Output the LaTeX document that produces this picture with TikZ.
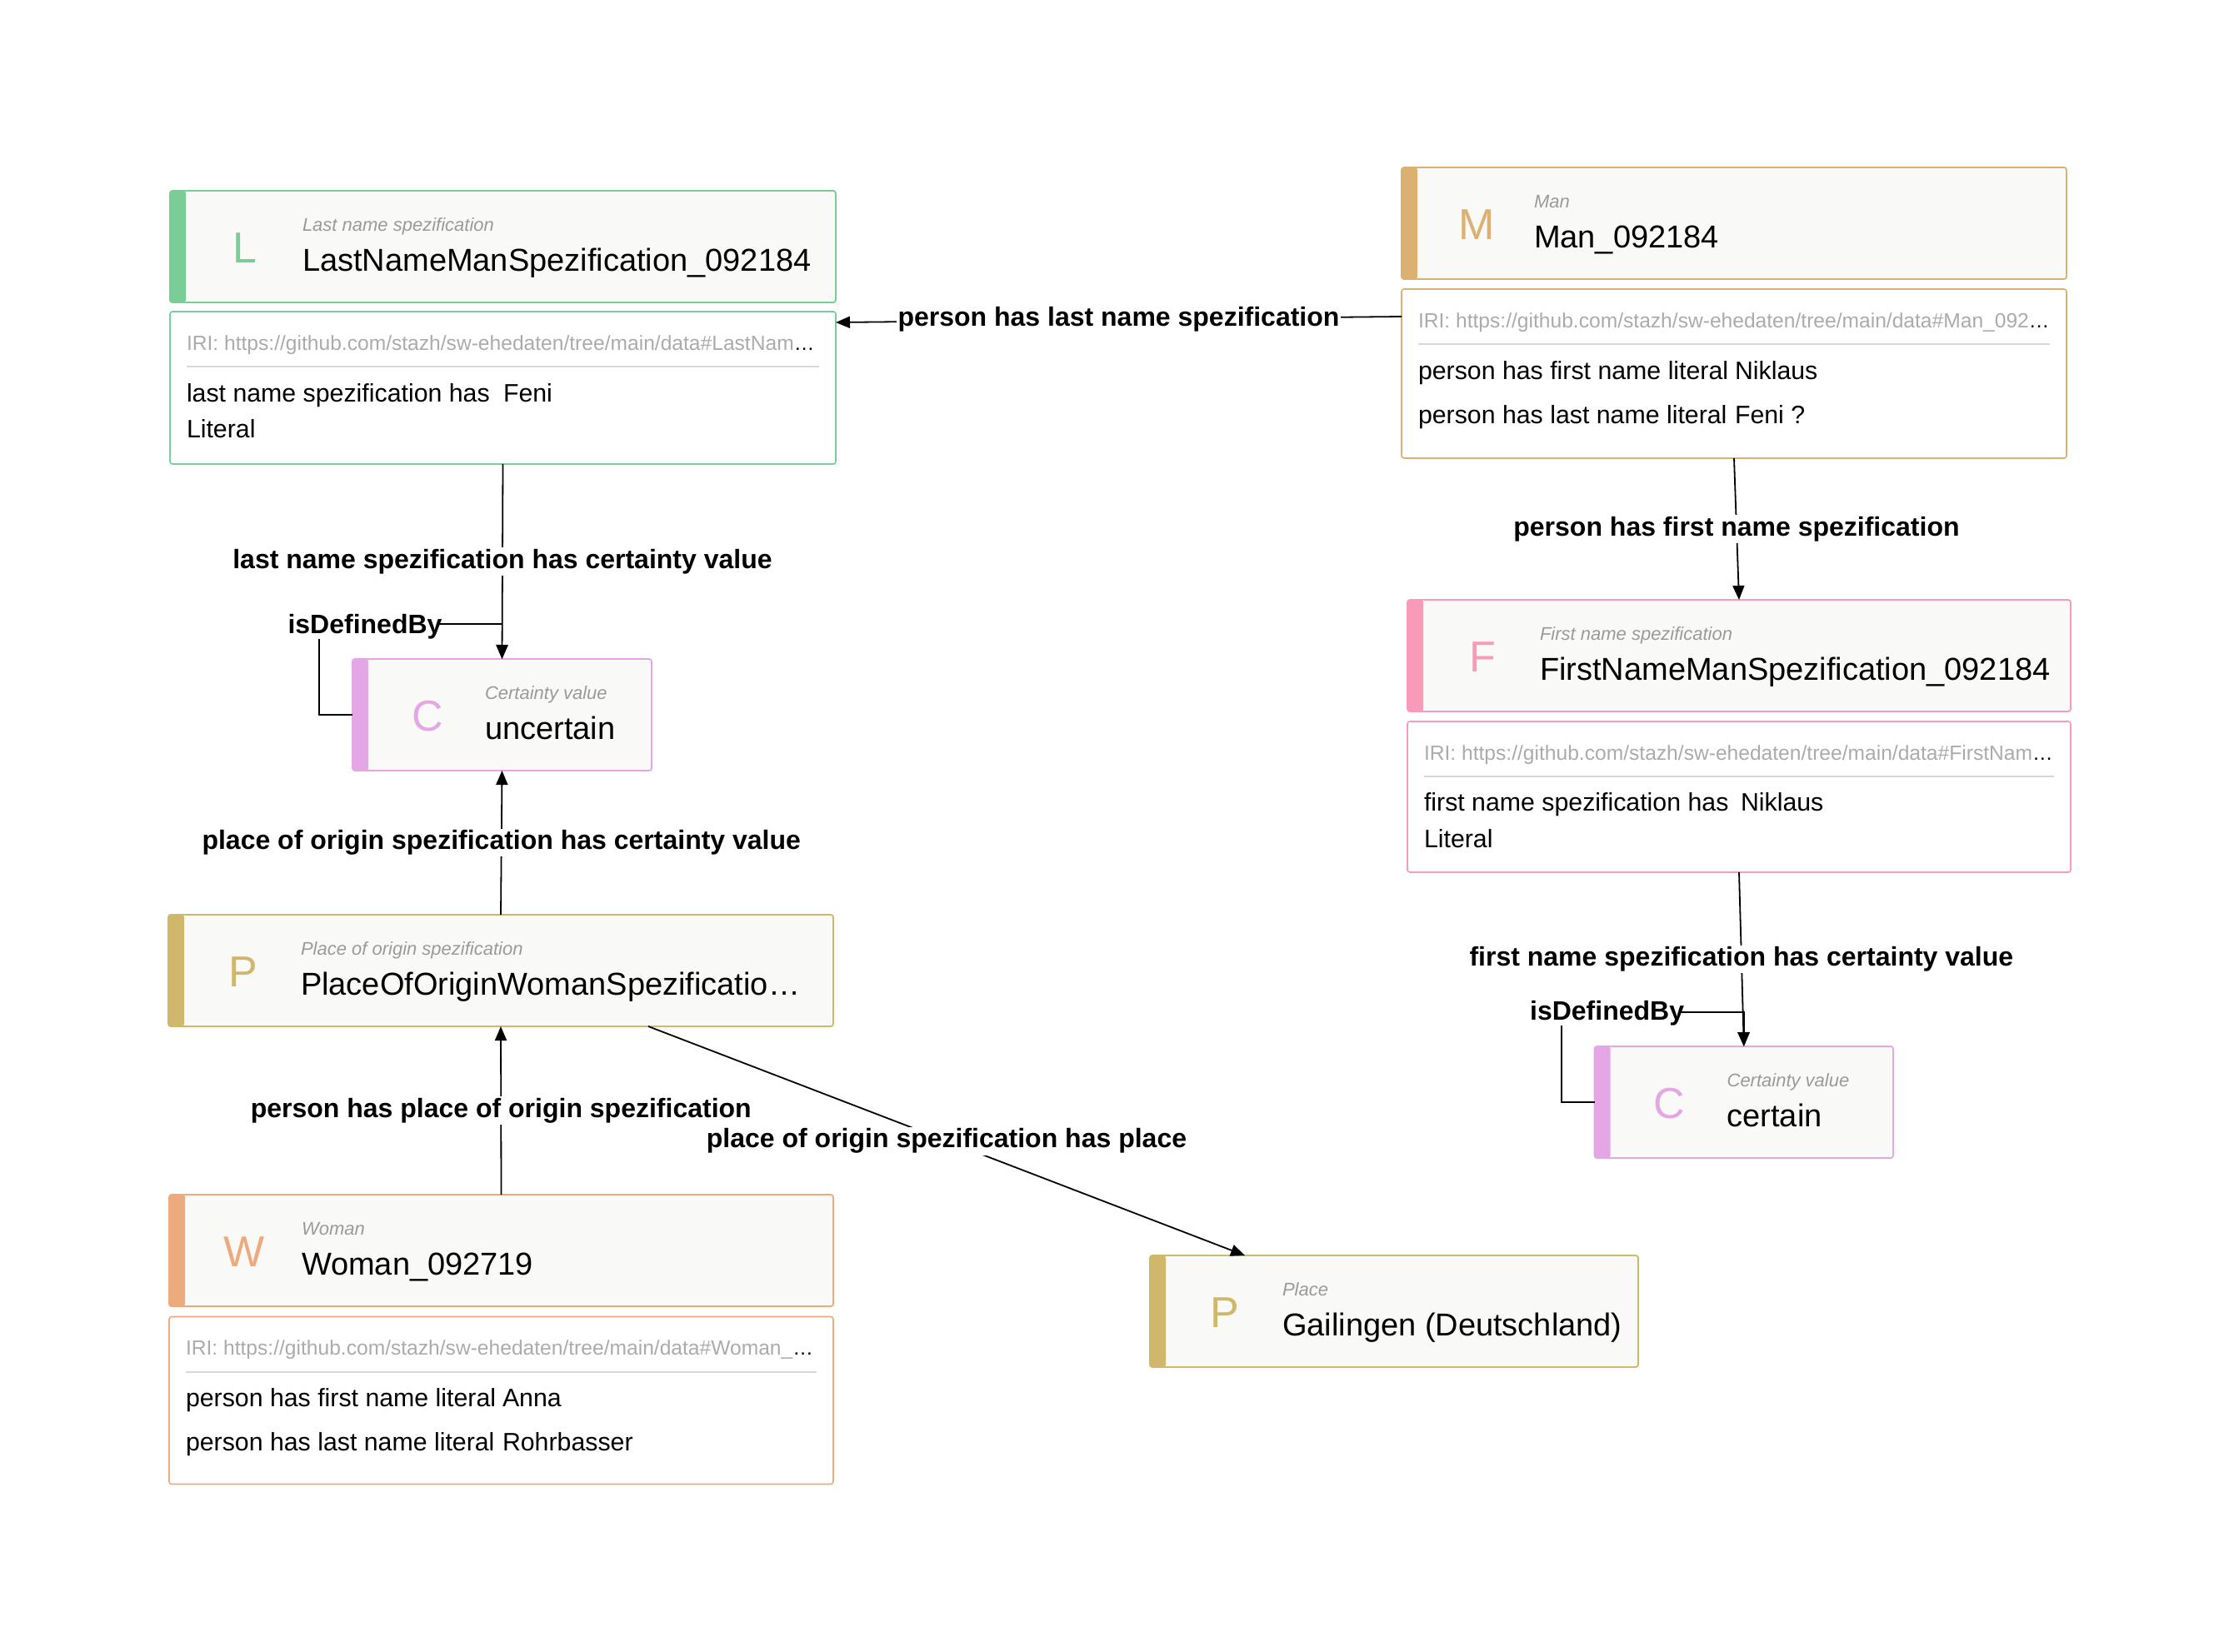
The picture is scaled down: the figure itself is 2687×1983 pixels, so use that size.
\documentclass[tikz,border=0pt]{standalone}
\usepackage{fontspec}
\setmainfont{Liberation Sans}
\usetikzlibrary{arrows.meta,calc}

\definecolor{cGreen}{HTML}{7ACD96}
\definecolor{cTan}{HTML}{DCB070}
\definecolor{cPink}{HTML}{F99AB8}
\definecolor{cOrchid}{HTML}{E4A6E4}
\definecolor{cKhaki}{HTML}{CFB76C}
\definecolor{cSalmon}{HTML}{EDAA7D}
\definecolor{hdrFill}{HTML}{F9F9F7}
\definecolor{typeGray}{HTML}{9A9A9A}
\definecolor{iriGray}{HTML}{ABABAB}
\definecolor{sepGray}{HTML}{D8D8D8}

\newcommand{\fs}[1]{\fontsize{#1}{#1}\selectfont}

\tikzset{
  hdr/.style={draw=#1, fill=hdrFill, line width=1.8pt, rounded corners=3pt,
    minimum height=134pt, inner sep=0pt, outer sep=0pt, anchor=north west,
    path picture={\fill[#1] (path picture bounding box.north west)
      rectangle ([xshift=19pt]path picture bounding box.south west);}},
  det/.style={draw=#1, fill=white, line width=1.6pt, rounded corners=3pt,
    inner sep=0pt, outer sep=0pt, anchor=north west},
  txt/.style={inner sep=0pt, outer sep=0pt, anchor=base west},
  lab/.style={font=\fs{32}\bfseries, fill=white, inner sep=2pt, text=black},
  deflab/.style={font=\fs{32}\bfseries, fill=white, inner xsep=-5pt, inner ysep=0pt, anchor=base},
  arr/.style={line width=1.8pt, draw=black, -{Triangle[length=17pt,width=14pt]}},
}

% header card: name, colour, x, y, width, letter, type, title
\newcommand{\entity}[8]{%
  \node[hdr=#2, minimum width=#5pt] (#1) at (#3,#4) {};
  \node[txt, anchor=base, text=#2, font=\fs{52}] (#1-l) at ($(#1.north west)+(90,86)$) {#6};
  \node[txt, text=typeGray, font=\fs{22}\itshape] (#1-t) at ($(#1.north west)+(159,48)$) {#7};
  \node[txt, font=\fs{38}] (#1-n) at ($(#1.north west)+(159,96)$) {#8};
}
% detail card: name, colour, x, y, width, height, IRI tail
\newcommand{\details}[7]{%
  \node[det=#2, minimum width=#5pt, minimum height=#6pt] (#1) at (#3,#4) {};
  \node[txt, text=iriGray, font=\fs{24.6}] (#1-iri) at ($(#1.north west)+(20,46)$)
    {IRI: https://github.com/stazh/sw-ehedaten/tree/main/data\##7\textcolor{black}{…}};
  \draw[sepGray, line width=2pt] ($(#1.north west)+(20,66)$) -- ($(#1.north east)+(-20,66)$);
}
% property row: card, id, y offset, key, value
\newcommand{\prop}[5]{%
  \node[txt, font=\fs{30.3}] (#1-#2k) at ($(#1.north west)+(20,#3)$) {#4};
  \node[txt, font=\fs{30.3}] (#1-#2v) at ($(#1.north west)+(400,#3)$) {#5};
}

\begin{document}
\begin{tikzpicture}[x=1pt, y=-1pt]
\fill[white] (0,0) rectangle (2687,1983);
\useasboundingbox (0,0) rectangle (2687,1983);

% cards
\entity{L}{cGreen}{204}{229}{799}{L}{Last name spezification}{LastNameManSpezification\_092184}
\details{Ld}{cGreen}{204}{374}{799}{183}{LastNam}
\prop{Ld}{a}{108}{last name spezification has}{Feni}
\node[txt, font=\fs{30.3}] (Ld-lit) at ($(Ld.north west)+(20,151)$) {Literal};

\entity{M}{cTan}{1682}{201}{798}{M}{Man}{Man\_092184}
\details{Md}{cTan}{1682}{347}{798}{203}{Man\_092}
\prop{Md}{a}{108}{person has first name literal}{Niklaus}
\prop{Md}{b}{161}{person has last name literal}{Feni ?}

\entity{F}{cPink}{1689}{720}{796}{F}{First name spezification}{FirstNameManSpezification\_092184}
\details{Fd}{cPink}{1689}{866}{796}{181}{FirstNam}
\prop{Fd}{a}{107}{first name spezification has}{Niklaus}
\node[txt, font=\fs{30.3}] (Fd-lit) at ($(Fd.north west)+(20,151)$) {Literal};

\entity{C1}{cOrchid}{423}{791}{359}{C}{Certainty value}{uncertain}
\entity{C2}{cOrchid}{1913.6}{1256}{358.4}{C}{Certainty value}{certain}

\entity{P}{cKhaki}{202}{1098}{798}{P}{Place of origin spezification}{PlaceOfOriginWomanSpezificatio…}

\entity{W}{cSalmon}{203}{1434}{797}{W}{Woman}{Woman\_092719}
\details{Wd}{cSalmon}{203}{1580.5}{797}{201}{Woman\_}
\prop{Wd}{a}{108}{person has first name literal}{Anna}
\prop{Wd}{b}{161}{person has last name literal}{Rohrbasser}

\entity{Pl}{cKhaki}{1380}{1507}{586}{P}{Place}{Gailingen (Deutschland)}

% connectors
\draw[arr] ($(Md.north west)+(0,33)$) -- node[lab] (e1) {person has last name spezification} ($(Ld.north east)+(0,13)$);
\draw[arr] (Md.south) -- node[lab] (e2) {person has first name spezification} (F.north);
\draw[arr] (Ld.south) -- node[lab] (e3) {last name spezification has certainty value} (C1.north);
\draw[arr] (C1.west) -- ++(-40,0) |- ($(C1.north)+(0,-42)$) -- (C1.north);
\node[deflab] (d1) at ($(C1.west)+(15,-98)$) {isDefinedBy};
\draw[arr] (P.north) -- node[lab] (e4) {place of origin spezification has certainty value} (C1.south);
\draw[arr] (W.north) -- node[lab] (e5) {person has place of origin spezification} (P.south);
\draw[arr] ($(P.south east)+(-222,0)$) -- node[lab] (e6) {place of origin spezification has place} ($(Pl.north west)+(114,0)$);
\draw[arr] (Fd.south) -- node[lab] (e7) {first name spezification has certainty value} (C2.north);
\draw[arr] (C2.west) -- ++(-40,0) |- ($(C2.north)+(0,-41)$) -- (C2.north);
\node[deflab] (d2) at ($(C2.west)+(15,-99)$) {isDefinedBy};
\end{tikzpicture}
\end{document}
